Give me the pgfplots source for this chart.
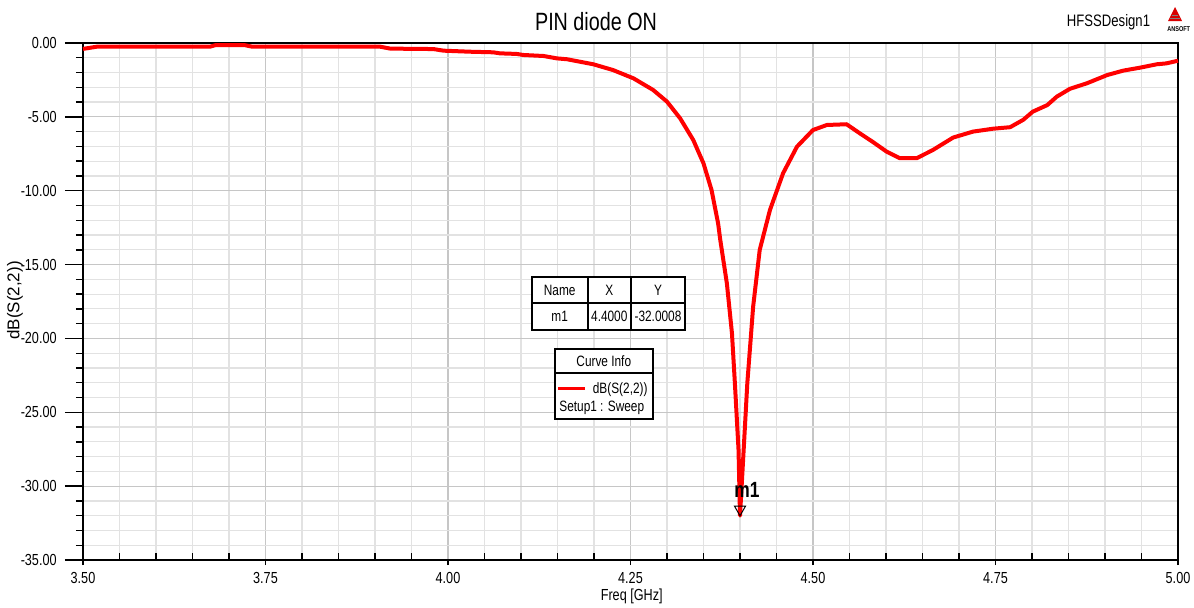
\documentclass[border=0pt]{standalone}
\usepackage{fontspec}
\setmainfont{Liberation Sans}[FakeStretch=0.79]
\newfontfamily\plainsans{Liberation Sans}
\usepackage{pgfplots}
\usepackage{pgfplotstable}
\pgfplotsset{compat=1.18}

\definecolor{majgrid}{RGB}{198,198,198}
\definecolor{mingrid}{RGB}{226,226,226}

% dB(S(2,2)) against frequency in GHz
\pgfplotstableread{
f     db
3.500 -0.40
3.519 -0.25
3.674 -0.25
3.681 -0.15
3.722 -0.15
3.732 -0.25
3.907 -0.25
3.921 -0.38
3.980 -0.41
3.994 -0.52
4.030 -0.59
4.062 -0.63
4.071 -0.70
4.094 -0.74
4.103 -0.81
4.131 -0.88
4.149 -1.04
4.163 -1.10
4.199 -1.44
4.226 -1.83
4.254 -2.39
4.281 -3.18
4.300 -3.97
4.318 -5.10
4.336 -6.57
4.350 -8.15
4.361 -9.95
4.370 -12.21
4.373 -13.34
4.382 -16.27
4.389 -19.66
4.393 -23.04
4.398 -27.56
4.400 -32.00
4.405 -27.56
4.410 -23.04
4.418 -17.85
4.427 -14.01
4.441 -11.31
4.459 -8.82
4.478 -7.02
4.500 -5.89
4.519 -5.55
4.546 -5.50
4.564 -6.11
4.582 -6.70
4.601 -7.36
4.619 -7.80
4.642 -7.80
4.664 -7.25
4.692 -6.40
4.719 -6.00
4.747 -5.80
4.770 -5.70
4.788 -5.20
4.801 -4.65
4.821 -4.20
4.834 -3.63
4.852 -3.10
4.875 -2.73
4.903 -2.17
4.925 -1.87
4.948 -1.67
4.971 -1.44
4.984 -1.38
5.000 -1.20
}\sparam

\begin{document}
\begin{tikzpicture}
\begin{axis}[
    scale only axis,
    width=547.5pt, height=258.5pt,
    xmin=3.5, xmax=5, ymin=-35, ymax=0,
    xtick={3.5,3.75,4,4.25,4.5,4.75,5},
    ytick={-35,-30,...,0},
    minor x tick num=4, minor y tick num=4,
    grid=both,
    major grid style={majgrid, line width=0.6pt},
    minor grid style={mingrid, line width=0.6pt},
    axis line style={line width=1pt},
    tick pos=left,
    tick align=inside,
    major tick length=9pt, minor tick length=3.5pt,
    tick style={black, line width=0.7pt},
    major x tick style={yshift=-2.5pt, dash pattern=on 2.5pt off 12pt},
    major y tick style={xshift=-9pt},
    minor y tick style={xshift=-3.5pt},
    /pgf/number format/assume math mode=true,
    tick label style={font=\fontsize{8}{9}\selectfont},
    xticklabel style={anchor=base, inner sep=0pt, yshift=-11.8pt,
        /pgf/number format/fixed, /pgf/number format/fixed zerofill,
        /pgf/number format/precision=2},
    yticklabel style={anchor=east, inner sep=0pt, xshift=-13pt,
        /pgf/number format/fixed, /pgf/number format/fixed zerofill,
        /pgf/number format/precision=2},
    clip=false,
]
\addplot[red, line width=2pt, line join=round] table[x=f, y=db] {\sparam};
\addplot[only marks, mark=triangle, mark size=3.2pt,
    mark options={yshift=3.2pt, rotate=180, draw=black, fill=white, line width=0.5pt},
    point meta=explicit symbolic, nodes near coords,
    every node near coord/.append style={font=\bfseries\fontsize{11}{12}\selectfont,
        anchor=center, xshift=3.5pt, yshift=9.5pt, text=black}]
    coordinates {(4.4,-32.0008) [m1]};
\end{axis}

\pgfresetboundingbox
% overlay in pixel units of the reference, origin at its top left corner
\begin{scope}[shift={(current axis.south west)}, xshift=-41.5pt, yshift=280pt,
    x=0.5pt, y=-0.5pt]
\path[use as bounding box] (0,0) rectangle (1194,607);

\node[anchor=base, inner sep=0pt, font=\fontsize{12.5}{14}\selectfont] at (596,30) {PIN diode ON};
\node[anchor=base, inner sep=0pt, font=\fontsize{8.3}{10}\selectfont] at (1108.5,26.7) {HFSSDesign1};

% Ansoft logo
\fill[red!85!black] (1175,7) -- (1182,21) -- (1168,21) -- cycle;
\draw[gray, line width=0.4pt] (1172,15) -- (1178,15) (1170,18) -- (1180,18);
\node[anchor=base, inner sep=0pt, font=\bfseries\fontsize{3.5}{4}\selectfont] at (1178.7,31.5) {ANSOFT};

% axis labels
\node[anchor=base, inner sep=0pt, font=\fontsize{8}{9}\selectfont] at (631.7,600.5) {Freq [GHz]};
\node[rotate=90, anchor=base, inner sep=0pt, font=\plainsans\fontsize{8.5}{10}\selectfont] at (19.5,300.5) {dB(S(2,2))};

% marker table
\begin{scope}[font=\fontsize{7.5}{9}\selectfont]
\draw[line width=0.9pt, fill=white] (531.7,276.7) rectangle (685,330);
\draw[line width=0.9pt] (531.7,303.3) -- (685,303.3)
    (587.7,276.7) -- (587.7,330) (631,276.7) -- (631,330);
\node at (559.7,290) {Name};
\node at (609.3,290) {X};
\node at (658,290) {Y};
\node at (559.7,316.7) {m1};
\node at (609.3,316.7) {4.4000};
\node at (658,316.7) {-32.0008};

% curve info box
\draw[line width=0.9pt, fill=white] (555,349.3) rectangle (652.7,419);
\draw[line width=0.9pt] (555,373.3) -- (652.7,373.3);
\node at (603.8,361.3) {Curve Info};
\draw[red, line width=1.3pt] (558,388.3) -- (585,388.3);
\node[anchor=base west, inner sep=0pt] at (592.5,393) {dB(S(2,2))};
\node[anchor=base west, inner sep=0pt] at (559,411.7) {Setup1 : Sweep};
\end{scope}
\end{scope}
\end{tikzpicture}
\end{document}
